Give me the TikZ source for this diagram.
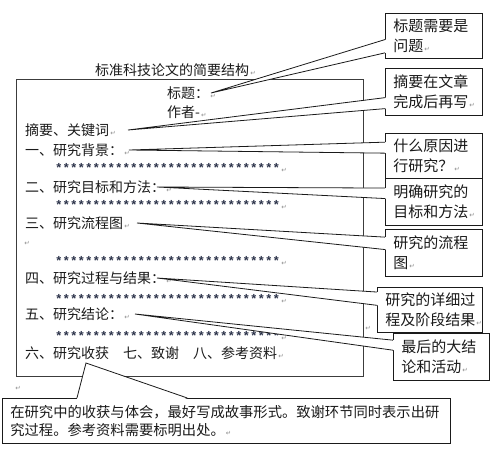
\documentclass[tikz,border=0pt]{standalone}
\usepackage{fontspec}
\setmainfont{Noto Sans CJK SC}
\newfontfamily\markfont{DejaVu Sans}
\newfontfamily\starfont{Liberation Mono}
\usetikzlibrary{calc}
\definecolor{ink}{HTML}{1A1A1A}
\definecolor{markgray}{HTML}{8C8C8C}
\definecolor{starink}{HTML}{2A3148}
\newcommand{\retmark}{{\markfont\mdseries\fontsize{6.5}{6.5}\selectfont\color{markgray}\,↵}}
\tikzset{
  sheet/.style={
    x=1pt, y=-1pt,
    line join=miter,
  },
  framebox/.style={
    draw=ink!85,
    line width=0.8pt,
    anchor=north west,
    inner sep=0pt,
  },
  body/.style={
    anchor=west,
    inner sep=0pt,
    text=ink,
    font=\fontsize{14}{16}\selectfont,
  },
  stars/.style={
    anchor=west,
    inner sep=0pt,
    yshift=-2.5pt,
    text=starink,
    font=\starfont\bfseries\fontsize{12.5}{12.5}\selectfont,
  },
  note/.style={
    draw=ink,
    fill=white,
    line width=0.8pt,
    anchor=north west,
    inner xsep=8pt,
    inner ysep=0pt,
    align=left,
    text=ink,
    text width=#1,
    font=\fontsize{15}{20}\selectfont,
  },
  wedgeline/.style={
    draw=ink,
    line width=0.8pt,
  },
}

\begin{document}
\begin{tikzpicture}[sheet]
  \useasboundingbox (0,0) rectangle (491,451);

  \newcommand{\calloutwedge}[6]{% tip, corner a, corner b, from, to, nudge into box
    \fill[white] (#1) -- ($(#2)!#4!(#3)+#6$) -- ($(#2)!#5!(#3)+#6$) -- cycle;
    \draw[wedgeline] ($(#2)!#4!(#3)$) -- (#1) -- ($(#2)!#5!(#3)$);
  }

  % the page outline
  \node[framebox, minimum width=347pt, minimum height=297pt] (frame) at (16,79) {};
  \node[body] (title) at (95,70) {标准科技论文的简要结构\retmark};

  \node[body] (biaoti) at (167,93) {标题：\retmark};
  \node[body] (zuozhe) at (167,112) {作者-\retmark};
  \node[body] (zhaiyao) at (25,130) {摘要、关键词\retmark};
  \node[body] (sec1) at (25,150) {一、研究背景：\retmark};
  \node[stars] (row1) at (55,165) {******************************\retmark};
  \node[body] (sec2) at (25,187) {二、研究目标和方法：\retmark};
  \node[stars] (row2) at (55,202) {******************************\retmark};
  \node[body] (sec3) at (25,223) {三、研究流程图\retmark};
  \node[body] (blank) at (23,243) {\retmark};
  \node[stars] (row3) at (55,258) {******************************\retmark};
  \node[body] (sec4) at (25,278) {四、研究过程与结果：\retmark};
  \node[stars] (row4) at (55,296) {******************************\retmark};
  \node[body] (sec5) at (25,314) {五、研究结论：\retmark};
  \node[stars] (row5) at (55,333) {******************************\retmark};
  \node[body] (sec6) at (25,353) {六、研究收获　七、致谢　八、参考资料\retmark};
  \node[body] (after) at (14,388) {\retmark};
  \node[body] (side) at (364,328) {\retmark};

  \coordinate (t1) at (211,93);
  \coordinate (t2) at (128,130);
  \coordinate (t3) at (129,150);
  \coordinate (t4) at (157,187);
  \coordinate (t5) at (137,223);
  \coordinate (t6) at (157,278);
  \coordinate (t7) at (135,314);
  \coordinate (t8) at (86,363);

  % callouts
  \node[note=81pt, minimum height=45pt] (c1) at (385,13) {标题需要是\\问题\retmark};
  \node[note=81pt, minimum height=47pt] (c2) at (385,68) {摘要在文章\\完成后再写\retmark};
  \node[note=81pt, minimum height=45pt] (c3) at (385,133) {什么原因进\\行研究？\retmark};
  \node[note=81pt, minimum height=47pt] (c4) at (385,178) {明确研究的\\目标和方法\retmark};
  \node[note=81pt, minimum height=47pt] (c5) at (385,229) {研究的流程\\图\retmark};
  \node[note=89pt, minimum height=45pt] (c6) at (377,287) {研究的详细过\\程及阶段结果\retmark};
  \node[note=80pt, minimum height=47pt] (c7) at (393,333) {最后的大结\\论和活动\retmark};
  \node[note=432pt, minimum height=45pt, font=\fontsize{14.3}{18}\selectfont] (c8) at (2,398)
    {在研究中的收获与体会，最好写成故事形式。致谢环节同时表示出研\\究过程。参考资料需要标明出处。\retmark};

  \calloutwedge{t1}{c1.north west}{c1.south west}{.58}{.87}{(1pt,0)}
  \calloutwedge{t2}{c2.north west}{c2.south west}{.62}{.85}{(1pt,0)}
  \calloutwedge{t3}{c3.north west}{c3.south west}{.20}{.44}{(1pt,0)}
  \calloutwedge{t4}{c4.north west}{c4.south west}{.21}{.43}{(1pt,0)}
  \calloutwedge{t5}{c5.north west}{c5.south west}{.17}{.43}{(1pt,0)}
  \calloutwedge{t6}{c6.north west}{c6.south west}{.11}{.40}{(1pt,0)}
  \calloutwedge{t7}{c7.north west}{c7.south west}{.15}{.36}{(1pt,0)}
  \calloutwedge{t8}{c8.north west}{c8.north east}{.167}{.413}{(0,-1pt)}
\end{tikzpicture}
\end{document}
